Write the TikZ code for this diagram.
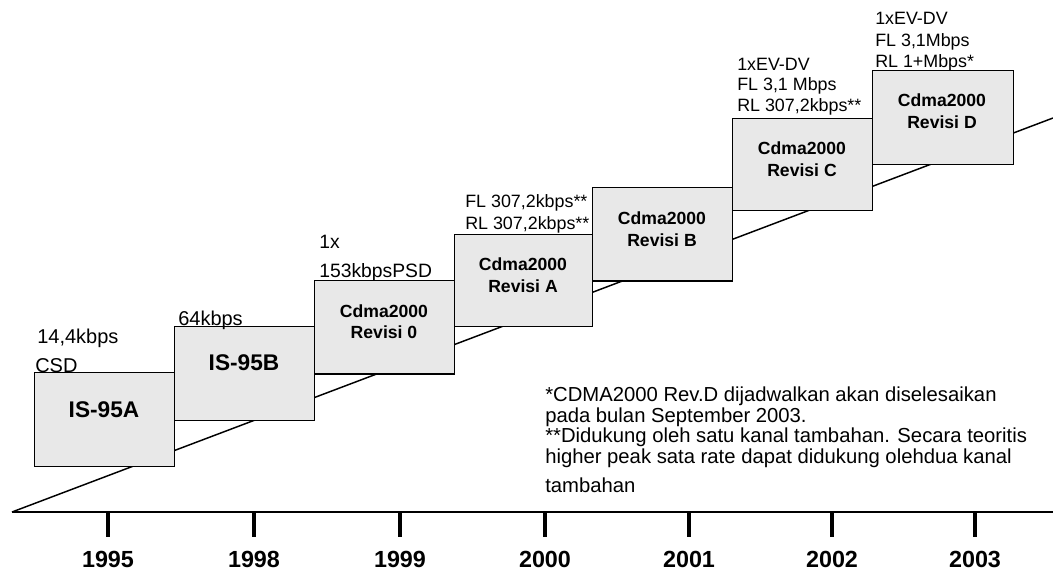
\documentclass[tikz,border=0pt]{standalone}
\usepackage{fontspec}
\setmainfont{Liberation Sans}
\definecolor{boxgray}{HTML}{E8E8E8}
\begin{document}
\begin{tikzpicture}[x=0.75pt,y=-0.75pt,
  box/.style={draw=black, line width=1.1pt, fill=boxgray, anchor=north west, inner sep=0pt, minimum width=105pt, minimum height=70pt},
  ttl/.style={font=\bfseries\fontsize{13.2}{15}\selectfont, anchor=base, inner sep=0pt},
  bigttl/.style={font=\bfseries\fontsize{17}{20}\selectfont, anchor=base, inner sep=0pt},
  lblbig/.style={font=\fontsize{15}{18}\selectfont, anchor=base west, inner sep=0pt},
  lblmid/.style={font=\fontsize{14.5}{16}\selectfont, anchor=base west, inner sep=0pt},
  lblsm/.style={font=\fontsize{13.4}{15}\selectfont, anchor=base west, inner sep=0pt},
  note/.style={font=\fontsize{15.2}{18}\selectfont, anchor=base west, inner sep=0pt},
  yr/.style={font=\bfseries\fontsize{17.5}{20}\selectfont, anchor=base, inner sep=0pt},
  tick/.style={line width=2.3pt},
  ln/.style={line width=1.1pt}]
\useasboundingbox (0,0) rectangle (1053,572);
% lines
\coordinate (d0) at (12,512);
\coordinate (d1) at (1053,118);
\coordinate (a1) at (1053,512);
\draw[ln] (d0) -- (d1);
\draw[ln] (d0) -- (a1);
% ticks and years
\foreach \x/\y [count=\i] in {108/1995,254/1998,400/1999,545/2000,689/2001,832/2002,975/2003}{
  \coordinate (tk\i) at (\x,511);
  \coordinate (tb\i) at (\x,537);
  \draw[tick] (tk\i) -- (tb\i);
  \node[yr] (y\i) at (\x,567) {\y};
}
% boxes
\node[box, minimum height=70.5pt] (b95a) at (34,372) {};
\node[box, minimum height=70.5pt] (b95b) at (174,326) {};
\node[box] (r0) at (314,280) {};
\node[box, minimum width=103.5pt, minimum height=69pt] (ra) at (454,234) {};
\node[box] (rb) at (592,187) {};
\node[box, minimum height=69pt] (rc) at (732,118) {};
\node[box, minimum width=105.75pt, minimum height=70.5pt] (rd) at (872,70) {};
% box titles
\node[bigttl] (t95a) at (104,417) {IS-95A};
\node[bigttl] (t95b) at (244,370) {IS-95B};
\node[ttl] (t0a) at (384,317) {Cdma2000};
\node[ttl] (t0b) at (384,338) {Revisi 0};
\node[ttl] (taa) at (523,270) {Cdma2000};
\node[ttl] (tab) at (523,292) {Revisi A};
\node[ttl] (tba) at (662,224) {Cdma2000};
\node[ttl] (tbb) at (662,246) {Revisi B};
\node[ttl] (tca) at (802,154) {Cdma2000};
\node[ttl] (tcb) at (802,176) {Revisi C};
\node[ttl] (tda) at (942,106) {Cdma2000};
\node[ttl] (tdb) at (942,128) {Revisi D};
% labels
\node[lblbig] (l1) at (37,343) {14,4kbps};
\node[lblbig] (l2) at (35,372) {CSD};
\node[lblbig] (l3) at (178,325) {64kbps};
\node[lblmid] (l4) at (319,248) {1x};
\node[lblmid] (l5) at (319,277) {153kbpsPSD};
\node[lblsm] (l6) at (465,207) {FL 307,2kbps**};
\node[lblsm] (l7) at (465,229) {RL 307,2kbps**};
\node[lblsm] (l8) at (737,70) {1xEV-DV};
\node[lblsm] (l9) at (737,90) {FL 3,1 Mbps};
\node[lblsm] (l10) at (737,111) {RL 307,2kbps**};
\node[lblsm] (l11) at (875,24) {1xEV-DV};
\node[lblsm] (l12) at (875,46) {FL 3,1Mbps};
\node[lblsm] (l13) at (875,67) {RL 1+Mbps*};
% footnote
\node[note] (n1) at (545,401) {*CDMA2000 Rev.D dijadwalkan akan diselesaikan};
\node[note] (n2) at (545,422) {pada bulan September 2003.};
\node[note] (n3) at (545,442) {**Didukung oleh satu kanal tambahan. Secara teoritis};
\node[note] (n4) at (545,463) {higher peak sata rate dapat didukung olehdua kanal};
\node[note] (n5) at (545,492) {tambahan};
\end{tikzpicture}
\end{document}
